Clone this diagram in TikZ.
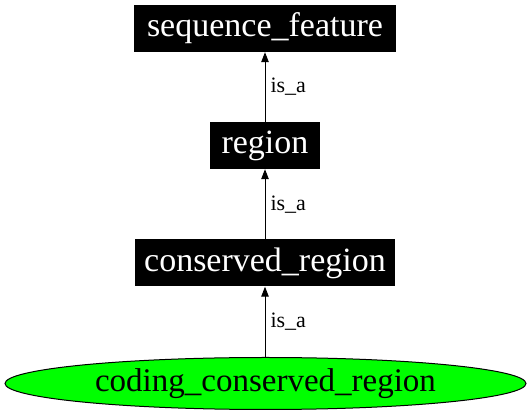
\documentclass[tikz,border=0pt]{standalone}
\usepackage{fontspec}
\setmainfont{Liberation Serif}
\usetikzlibrary{shapes.geometric,arrows.meta}
\begin{document}
\begin{tikzpicture}[x=1pt,y=-1pt,
  box/.style={fill=black,text=white,font=\fontsize{34}{38}\selectfont,inner sep=0pt,minimum height=47pt},
  oval/.style={ellipse,draw=black,fill=green,line width=1pt,font=\fontsize{33}{38}\selectfont,inner sep=0pt,minimum width=521pt,minimum height=52pt},
  isa/.style={-{Triangle[length=10pt,width=7.5pt]},line width=1pt},
  lab/.style={font=\fontsize{22}{24}\selectfont,anchor=west,inner sep=0pt}]
\useasboundingbox (0,0) rectangle (531,419);
\node[box,minimum width=262pt] (sf) at (265,28.5) {sequence\_feature};
\node[box,minimum width=110pt] (r) at (265,145.5) {region};
\node[box,minimum width=260pt] (cr) at (265,263) {conserved\_region};
\node[oval] (ccr) at (265.5,383.5) {coding\_conserved\_region};
\draw[isa] (r) -- (sf) node[lab,midway,xshift=5pt] {is\_a};
\draw[isa] (cr) -- (r) node[lab,midway,xshift=5pt] {is\_a};
\draw[isa] (ccr.north -| cr) -- (cr) node[lab,midway,xshift=5pt] {is\_a};
\end{tikzpicture}
\end{document}
